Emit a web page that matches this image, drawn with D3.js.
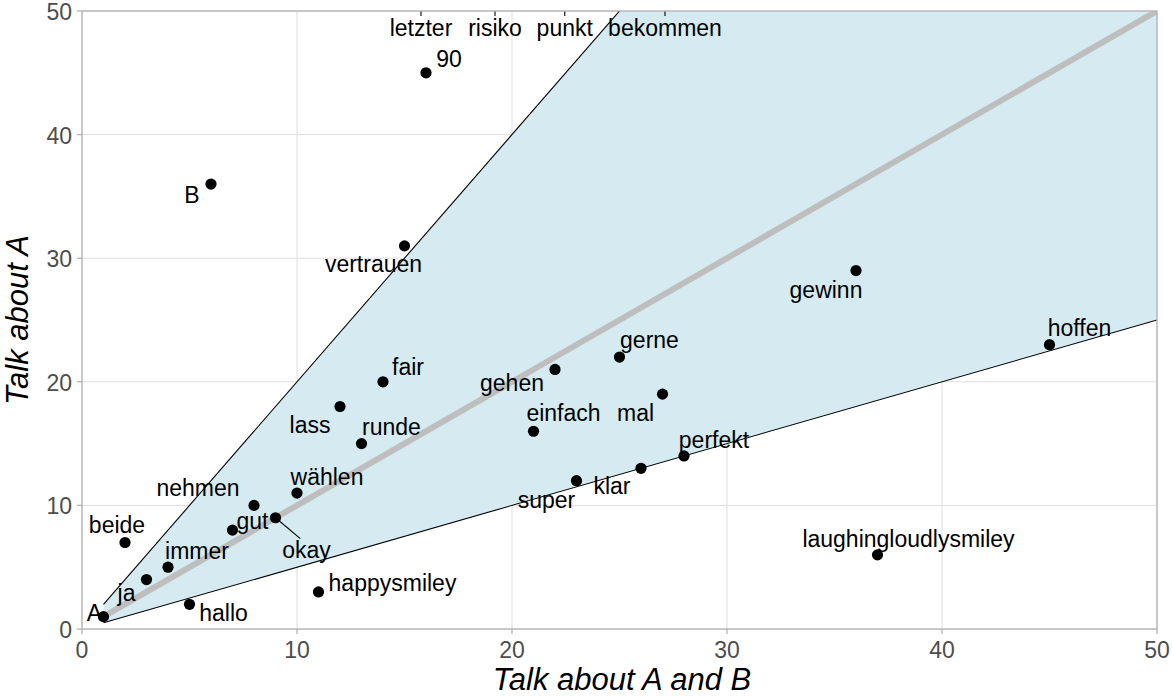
<!DOCTYPE html>
<html><head><meta charset="utf-8">
<script src="https://cdn.jsdelivr.net/npm/d3@7"></script>
<style>body{margin:0;background:#fff;} text{font-family:"Liberation Sans",Arial,sans-serif;}</style>
</head><body>
<svg id="c" width="1173" height="697"></svg>
<script>
// ---- data ----
const words  = ["A","ja","hallo","beide","immer","gut","nehmen","okay","wählen","happysmiley","lass","runde","fair","vertrauen","90","B","einfach","gehen","super","gerne","klar","mal","perfekt","gewinn","hoffen","laughingloudlysmiley","letzter","risiko","punkt","bekommen"];
const talkAB = [1,3,5,2,4,7,8,9,10,11,12,13,14,15,16,6,21,22,23,25,26,27,28,36,45,37,16,19,22.5,27];
const talkA  = [1,4,2,7,5,8,10,9,11,3,18,15,20,31,45,36,16,21,12,22,13,19,14,29,23,6,60,60,60,60];
const xTicks = [0,10,20,30,40,50];
const yTicks = [0,10,20,30,40,50];
// label offsets (pixels, layout only)
const labelDx = [-9,-20,34,-8,29,20,-56,31,30,74,-30,30,25,-31,23,-19,30,-43,-30,30,-29,-27,30,-30,30,31, -5,4.5,-1,2.5];
const labelDy = [-4,13,9,-18,-16,-9,-17,32,-16,-9,18,-17,-15,18,-14,11,-18,14,19,-17,18,19,-16,19,-17,-16, 0,0,0,0];
const labelTopY = 28; // for off-chart labels

const svg = d3.select("#c");
const L=82,R=1157,T=11,B=629;
const x = d3.scaleLinear().domain([0,50]).range([L,R]);
const y = d3.scaleLinear().domain([0,50]).range([B,T]);

svg.append("defs").append("clipPath").attr("id","clip").append("rect")
  .attr("x",L).attr("y",T).attr("width",R-L).attr("height",B-T);

// grid
const g = svg.append("g");
g.selectAll(".gx").data(xTicks).enter().append("line")
  .attr("x1",d=>x(d)).attr("x2",d=>x(d)).attr("y1",T).attr("y2",B)
  .attr("stroke","#dedede").attr("stroke-width",1);
g.selectAll(".gy").data(yTicks).enter().append("line")
  .attr("y1",d=>y(d)).attr("y2",d=>y(d)).attr("x1",L).attr("x2",R)
  .attr("stroke","#dedede").attr("stroke-width",1);

const clipG = svg.append("g").attr("clip-path","url(#clip)");
// ribbon between y=2x and y=x/2 from x=1 to 50
const xs = [1,50];
const ribbon = d3.area().x(d=>x(d)).y0(d=>y(d/2)).y1(d=>y(2*d));
clipG.append("path").datum(xs).attr("d",ribbon).attr("fill","#d5ebf1");
clipG.append("line").attr("x1",x(1)).attr("y1",y(2)).attr("x2",x(50)).attr("y2",y(100))
  .attr("stroke","#000").attr("stroke-width",1.1);
clipG.append("line").attr("x1",x(1)).attr("y1",y(0.5)).attr("x2",x(50)).attr("y2",y(25))
  .attr("stroke","#000").attr("stroke-width",1.1);
clipG.append("line").attr("x1",x(1)).attr("y1",y(1)).attr("x2",x(50)).attr("y2",y(50))
  .attr("stroke","#bebebe").attr("stroke-width",6);

const data = words.map((w,i)=>({w, xv:talkAB[i], yv:talkA[i], dx:labelDx[i], dy:labelDy[i]}));

// segments
clipG.selectAll(".seg").data(data.filter(d=>d.yv>50 || d.w==="okay")).enter().append("line")
  .attr("x1",d=>d.yv>50 ? x(d.xv)+d.dx : x(d.xv)).attr("y1",d=>y(d.yv))
  .attr("x2",d=>x(d.xv)+(d.yv>50 ? d.dx : d.dx*0.8))
  .attr("y2",d=>d.yv>50 ? labelTopY-12 : y(d.yv)+d.dy*0.65)
  .attr("stroke","#000").attr("stroke-width",1.1);

// points
clipG.selectAll(".pt").data(data).enter().append("circle")
  .attr("cx",d=>x(d.xv)).attr("cy",d=>y(d.yv)).attr("r",5.6).attr("fill","#000");

// labels
svg.append("g").selectAll("text").data(data).enter().append("text")
  .attr("x",d=>x(d.xv)+d.dx)
  .attr("y",d=>d.yv>50 ? labelTopY : y(d.yv)+d.dy)
  .attr("dy","0.35em").attr("text-anchor","middle")
  .attr("font-size",23).attr("fill","#000").text(d=>d.w);

// border
svg.append("rect").attr("x",L).attr("y",T).attr("width",R-L).attr("height",B-T)
  .attr("fill","none").attr("stroke","#b3b3b3").attr("stroke-width",1.3);

// axes ticks
svg.append("g").selectAll("line").data(xTicks).enter().append("line")
  .attr("x1",d=>x(d)).attr("x2",d=>x(d)).attr("y1",B).attr("y2",B+5)
  .attr("stroke","#b3b3b3").attr("stroke-width",1.3);
svg.append("g").selectAll("line").data(yTicks).enter().append("line")
  .attr("y1",d=>y(d)).attr("y2",d=>y(d)).attr("x1",L-5).attr("x2",L)
  .attr("stroke","#b3b3b3").attr("stroke-width",1.3);
svg.append("g").selectAll("text").data(xTicks).enter().append("text")
  .attr("x",d=>x(d)).attr("y",B+21).attr("dy","0.35em").attr("text-anchor","middle")
  .attr("font-size",23).attr("fill","#4d4d4d").text(d=>d);
svg.append("g").selectAll("text").data(yTicks).enter().append("text")
  .attr("x",L-10).attr("y",d=>y(d)+1).attr("dy","0.35em").attr("text-anchor","end")
  .attr("font-size",23).attr("fill","#4d4d4d").text(d=>d);

// titles
svg.append("text").attr("x",622).attr("y",690).attr("text-anchor","middle")
  .attr("font-size",31).attr("font-style","italic").attr("fill","#000").text("Talk about A and B");
svg.append("text").attr("transform",`translate(28,${(T+B)/2}) rotate(-90)`)
  .attr("text-anchor","middle").attr("font-size",31).attr("font-style","italic").attr("fill","#000").text("Talk about A");
</script>
</body></html>
